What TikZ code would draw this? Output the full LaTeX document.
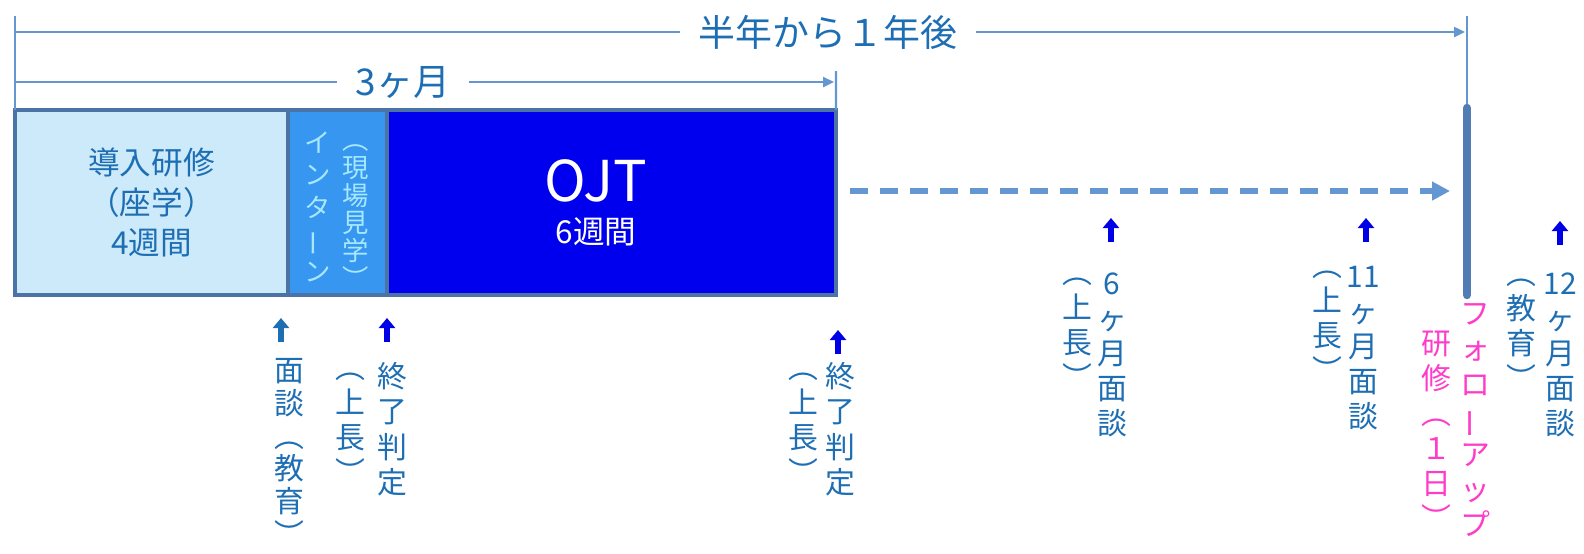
\documentclass[tikz,border=0pt]{standalone}
\usepackage{fontspec}
\setmainfont{Noto Sans CJK JP}
\usepackage{graphicx}
\usetikzlibrary{positioning, arrows.meta}
\definecolor{txtblue}{RGB}{30,110,180}
\definecolor{lineblue}{RGB}{100,150,210}
\definecolor{edgeblue}{RGB}{75,115,165}
\definecolor{introfill}{RGB}{205,234,250}
\definecolor{internfill}{RGB}{55,150,240}
\definecolor{interntext}{RGB}{165,232,255}
\definecolor{ojtfill}{RGB}{0,0,238}
\definecolor{markblue}{RGB}{0,0,230}
\definecolor{barblue}{RGB}{80,125,180}
\definecolor{followpink}{RGB}{255,60,200}
\newcommand{\tatebou}{\rotatebox[origin=c]{90}{ー}}

\begin{document}
\begin{tikzpicture}[node distance=0pt]
	\tikzstyle{stage} = [rectangle, draw=edgeblue, line width=1.1pt, minimum height=1.85cm, 
	inner sep=0pt, outer sep=0pt, align=center]
	\tikzstyle{span} = [inner sep=0.18cm, text=txtblue, font=\fontsize{10.5}{12}\selectfont]
	\tikzstyle{dimline} = [draw=lineblue, line width=0.7pt]
	\tikzstyle{arrow} = [dimline, -{Triangle[length=0.11cm, width=0.1cm]}]
	\tikzstyle{upmark} = [line width=1.6pt, -{Triangle[length=0.1cm, width=0.16cm]}]
	\tikzstyle{vtext} = [anchor=north, inner sep=0pt, align=center, text=txtblue, 
	font=\fontsize{8.5}{10}\selectfont]
	\useasboundingbox (0,0) rectangle (15.84,-5.53);
	\node (intro) [stage, fill=introfill, minimum width=2.73cm, text=txtblue, 
	font=\fontsize{9}{11.3}\selectfont, anchor=north west] at (0.15,-1.10) {導入研修\\（座学）\\4週間};
	\node (intern) [stage, fill=internfill, minimum width=0.99cm, right=of intro] {};
	\node (ojt) [stage, fill=ojtfill, minimum width=4.49cm, right=of intern] {};
	\node (internWord) [vtext, text=interntext, font=\fontsize{7.5}{9.2}\selectfont] at (3.18,-1.31) {イ\\ン\\タ\\\tatebou\\ン};
	\node (internNote) [vtext, text=interntext, font=\fontsize{7.5}{7.9}\selectfont] at (3.56,-1.44) {︵\\現\\場\\見\\学\\︶};
	\node (ojtTitle) [text=white, font=\fontsize{16}{16}\selectfont] at (5.96,-1.81) {OJT};
	\node (ojtWeeks) [text=white, font=\fontsize{9}{9}\selectfont] at (5.96,-2.32) {6週間};
	\node (halfYear) [span] at (8.28,-0.32) {半年から１年後};
	\node (threeMonths) [span] at (4.03,-0.82) {3ヶ月};
	\coordinate (originTop) at (0.15,-0.16);
	\coordinate (halfL) at (0.15,-0.32);
	\coordinate (halfR) at (14.65,-0.32);
	\coordinate (threeL) at (0.15,-0.82);
	\coordinate (threeR) at (8.34,-0.82);
	\coordinate (threeTick) at (8.36,-0.71);
	\coordinate (barTop) at (14.67,-0.16);
	\coordinate (barMid) at (14.67,-1.08);
	\coordinate (barBot) at (14.67,-2.95);
	\coordinate (dashL) at (8.50,-1.91);
	\coordinate (dashR) at (14.50,-1.91);
	\draw [dimline] (originTop) -- (intro.north west);
	\draw [dimline] (threeTick) -- (ojt.north east);
	\draw [dimline] (halfL) -- (halfYear);
	\draw [arrow] (halfYear) -- (halfR);
	\draw [dimline] (threeL) -- (threeMonths);
	\draw [arrow] (threeMonths) -- (threeR);
	\draw [dimline] (barTop) -- (barMid);
	\draw [draw=barblue, line width=2.4pt, line cap=round] (barMid) -- (barBot);
	\draw [draw=lineblue, line width=1.7pt, dash pattern=on 0.18cm off 0.12cm, 
	-{Triangle[length=0.18cm, width=0.18cm]}] (dashL) -- (dashR);
	\foreach \n/\x/\y/\c in {1/2.81/-3.42/txtblue, 2/3.87/-3.42/markblue, 3/8.38/-3.54/markblue, 
	4/11.11/-2.42/markblue, 5/13.66/-2.42/markblue, 6/15.60/-2.45/markblue}
	{
		\coordinate (m\n-b) at (\x,\y);
		\coordinate (m\n-t) at (\x,\y+0.24);
		\draw [upmark, draw=\c, fill=\c] (m\n-b) -- (m\n-t);
	}
	\node (introTalk) [vtext, font=\fontsize{8.5}{9.3}\selectfont] at (2.89,-3.58) {面\\談\\︵\\教\\育\\︶};
	\node (internJudge) [vtext] at (3.92,-3.62) {終\\了\\判\\定};
	\node (internBoss) [vtext] at (3.50,-3.72) {︵\\上\\長\\︶};
	\node (ojtJudge) [vtext] at (8.40,-3.62) {終\\了\\判\\定};
	\node (ojtBoss) [vtext] at (8.03,-3.72) {︵\\上\\長\\︶};
	\node (sixTalk) [vtext] at (11.12,-2.72) {6\\ヶ\\月\\面\\談};
	\node (sixBoss) [vtext] at (10.77,-2.77) {︵\\上\\長\\︶};
	\node (elevenTalk) [vtext] at (13.63,-2.65) {11\\ヶ\\月\\面\\談};
	\node (elevenBoss) [vtext] at (13.27,-2.70) {︵\\上\\長\\︶};
	\node (followUp) [vtext, text=followpink] at (14.75,-3.03) {フ\\ォ\\ロ\\\tatebou\\ア\\ッ\\プ};
	\node (followDay) [vtext, text=followpink] at (14.36,-3.30) {研\\修\\︵\\１\\日\\︶};
	\node (twelveTalk) [vtext] at (15.60,-2.72) {12\\ヶ\\月\\面\\談};
	\node (twelveEdu) [vtext] at (15.21,-2.78) {︵\\教\\育\\︶};
\end{tikzpicture}
\end{document}
